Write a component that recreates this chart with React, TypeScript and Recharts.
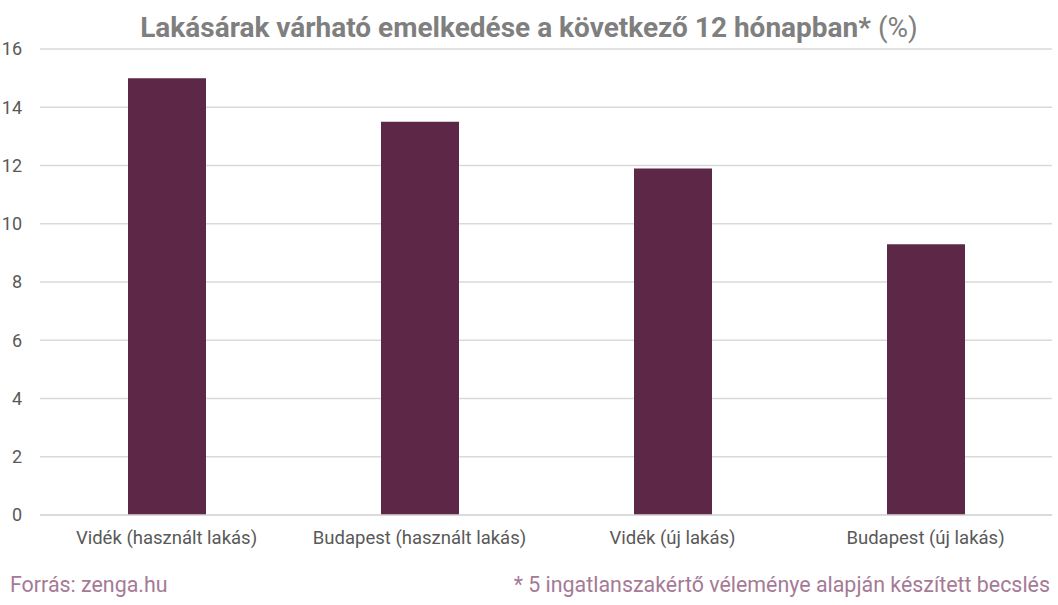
import React from 'react';
import { BarChart, Bar, XAxis, YAxis, CartesianGrid } from 'recharts';

const categories = ['Vidék (használt lakás)', 'Budapest (használt lakás)', 'Vidék (új lakás)', 'Budapest (új lakás)'];
const values = [15.0, 13.5, 11.9, 9.3];
const yTicks = [0, 2, 4, 6, 8, 10, 12, 14, 16];

const data = categories.map((c, i) => ({ name: c, value: values[i] }));

const FONT = 'Roboto, "Noto Sans", sans-serif';

export default function App() {
  return (
    <div style={{ position: 'absolute', left: 0, top: 0, width: 1058, height: 605, background: '#fff', fontFamily: FONT }}>
      <div style={{ position: 'absolute', left: 0, top: 9, width: 1058, textAlign: 'center', fontSize: 28, color: '#7F7F7F', lineHeight: '38px' }}>
        <span style={{ fontWeight: 700 }}>Lakásárak várható emelkedése a következő 12 hónapban*</span>
        <span style={{ fontWeight: 400 }}> (%)</span>
      </div>
      <BarChart
        width={1058}
        height={605}
        data={data}
        margin={{ top: 49, right: 6, left: 0, bottom: 50 }}
        barSize={78}
      >
        <CartesianGrid vertical={false} stroke="#D9D9D9" strokeWidth={1.3} />
        <XAxis
          dataKey="name"
          height={40}
          axisLine={{ stroke: '#D9D9D9', strokeWidth: 1.3 }}
          tickLine={false}
          tickMargin={10}
          tick={{ fill: '#595959', fontSize: 18.5, fontFamily: FONT }}
        />
        <YAxis
          width={40}
          domain={[0, 16]}
          ticks={yTicks}
          axisLine={false}
          tickLine={false}
          tickSize={0}
          tickMargin={18}
          tick={{ fill: '#595959', fontSize: 18, fontFamily: FONT }}
        />
        <Bar dataKey="value" fill="#5D2747" isAnimationActive={false} />
      </BarChart>
      <div style={{ position: 'absolute', left: 10, top: 572, fontSize: 21.4, color: '#A57A96', lineHeight: '26px' }}>Forrás: zenga.hu</div>
      <div style={{ position: 'absolute', right: 8, top: 572, fontSize: 21.4, color: '#A57A96', lineHeight: '26px' }}>* 5 ingatlanszakértő véleménye alapján készített becslés</div>
    </div>
  );
}
